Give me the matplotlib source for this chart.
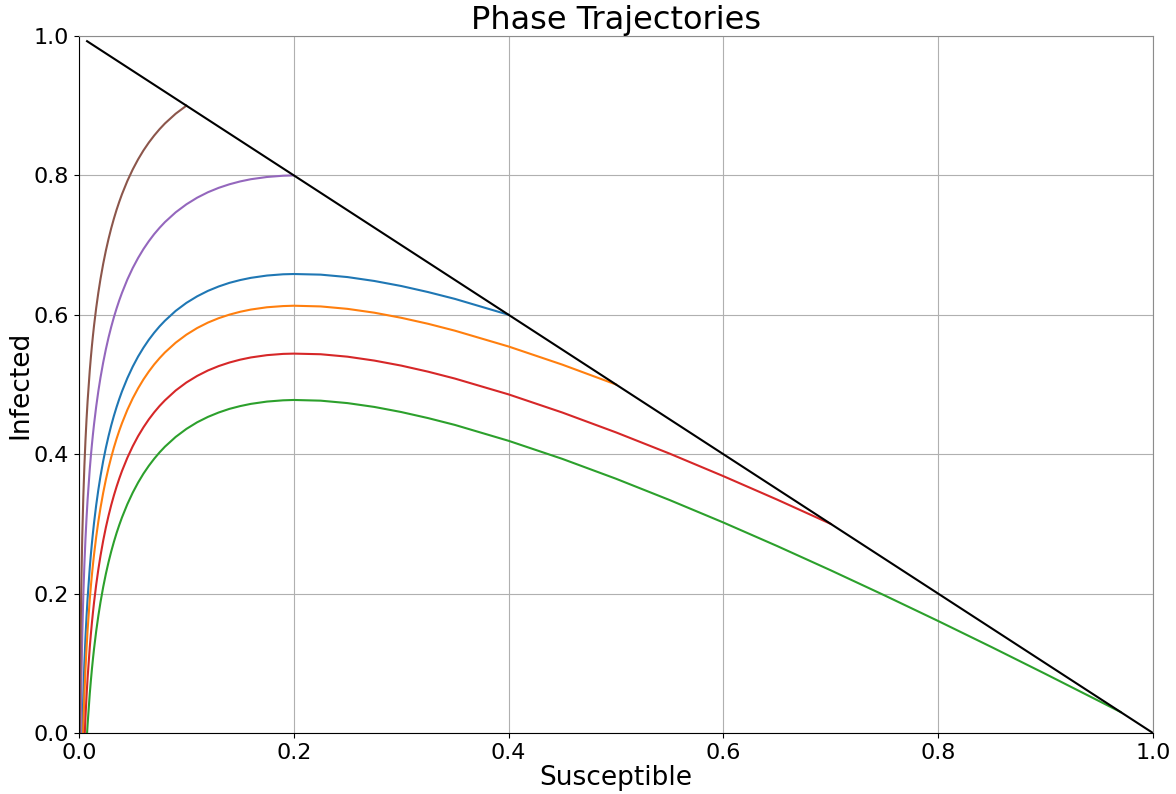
import matplotlib
matplotlib.use("Agg")
import matplotlib.pyplot as plt

# --- susceptible / infected pairs read off the phase portrait ---
# each trajectory starts on the S + I = 1 line and runs down to I = 0
s_blue = [0.00303, 0.004, 0.005, 0.006, 0.007, 0.008, 0.01, 0.011, 0.012, 0.013, 0.014, 0.016,
          0.018, 0.02, 0.0225, 0.025, 0.0275, 0.03, 0.0325, 0.035, 0.0375, 0.04, 0.045, 0.05,
          0.055, 0.06, 0.065, 0.07, 0.075, 0.08, 0.09, 0.1, 0.11, 0.12, 0.13, 0.14, 0.15, 0.16,
          0.175, 0.19, 0.2, 0.225, 0.25, 0.275, 0.3, 0.325, 0.35, 0.4]
i_blue = [0.0, 0.0562, 0.1007, 0.1369, 0.1674, 0.1936, 0.2372, 0.2556, 0.2724, 0.2877, 0.3018, 0.3271,
          0.3491, 0.3686, 0.3902, 0.4092, 0.4261, 0.4414, 0.4552, 0.4678, 0.4794, 0.4901, 0.5091, 0.5256,
          0.5401, 0.5528, 0.5642, 0.5743, 0.5834, 0.5915, 0.6056, 0.6171, 0.6265, 0.6343, 0.6406, 0.6458, 0.6498, 0.6530,
          0.6563, 0.6581, 0.6585, 0.6576, 0.6541, 0.6485, 0.6413, 0.6326, 0.6228, 0.6]

s_orange = [0.00382, 0.004, 0.005, 0.006, 0.007, 0.008, 0.01, 0.011, 0.012, 0.013, 0.014, 0.016,
            0.018, 0.02, 0.0225, 0.025, 0.0275, 0.03, 0.0325, 0.035, 0.0375, 0.04, 0.045, 0.05,
            0.055, 0.06, 0.065, 0.07, 0.075, 0.08, 0.09, 0.1, 0.11, 0.12, 0.13, 0.14, 0.15, 0.16,
            0.175, 0.19, 0.2, 0.225, 0.25, 0.275, 0.3, 0.325, 0.35, 0.4, 0.45, 0.5]
i_orange = [0.0, 0.0106, 0.0552, 0.0914, 0.1218, 0.1481, 0.1916, 0.2101, 0.2268, 0.2422, 0.2563, 0.2815,
            0.3036, 0.3231, 0.3446, 0.3636, 0.3806, 0.3958, 0.4097, 0.4223, 0.4339, 0.4445, 0.4636, 0.4801,
            0.4945, 0.5073, 0.5186, 0.5288, 0.5378, 0.5460, 0.5600, 0.5715, 0.5810, 0.5888, 0.5951, 0.6002, 0.6043, 0.6075,
            0.6108, 0.6125, 0.6130, 0.6120, 0.6085, 0.6030, 0.5957, 0.5871, 0.5772, 0.5545, 0.5285, 0.5]

s_green = [0.0075, 0.008, 0.01, 0.011, 0.012, 0.013, 0.014, 0.016, 0.018, 0.02, 0.0225, 0.025,
           0.0275, 0.03, 0.0325, 0.035, 0.0375, 0.04, 0.045, 0.05, 0.055, 0.06, 0.065, 0.07,
           0.075, 0.08, 0.09, 0.1, 0.11, 0.12, 0.13, 0.14, 0.15, 0.16, 0.175, 0.19, 0.2, 0.225,
           0.25, 0.275, 0.3, 0.325, 0.35, 0.4, 0.45, 0.5, 0.55, 0.6, 0.65, 0.7, 0.75, 0.8,
           0.85, 0.9, 0.95, 0.97]
i_green = [0.0, 0.0128, 0.0564, 0.0748, 0.0916, 0.1069, 0.1211, 0.1463, 0.1683, 0.1878, 0.2094, 0.2284,
           0.2453, 0.2606, 0.2744, 0.2871, 0.2986, 0.3093, 0.3283, 0.3448, 0.3593, 0.3721, 0.3834, 0.3935,
           0.4026, 0.4108, 0.4248, 0.4363, 0.4458, 0.4535, 0.4598, 0.4650, 0.4690, 0.4722, 0.4755, 0.4773, 0.4778, 0.4768,
           0.4733, 0.4678, 0.4605, 0.4518, 0.4420, 0.4192, 0.3933, 0.3648, 0.3342, 0.3020, 0.2683, 0.2334, 0.1975, 0.1607,
           0.1231, 0.0847, 0.0457, 0.03]

s_red = [0.00537, 0.006, 0.007, 0.008, 0.01, 0.011, 0.012, 0.013, 0.014, 0.016, 0.018, 0.02,
         0.0225, 0.025, 0.0275, 0.03, 0.0325, 0.035, 0.0375, 0.04, 0.045, 0.05, 0.055, 0.06,
         0.065, 0.07, 0.075, 0.08, 0.09, 0.1, 0.11, 0.12, 0.13, 0.14, 0.15, 0.16, 0.175, 0.19,
         0.2, 0.225, 0.25, 0.275, 0.3, 0.325, 0.35, 0.4, 0.45, 0.5, 0.55, 0.6, 0.65, 0.7]
i_red = [0.0, 0.0227, 0.0532, 0.0794, 0.1230, 0.1414, 0.1582, 0.1735, 0.1876, 0.2129, 0.2349, 0.2544,
         0.2760, 0.2950, 0.3119, 0.3272, 0.3410, 0.3536, 0.3652, 0.3759, 0.3949, 0.4114, 0.4259, 0.4386,
         0.4500, 0.4601, 0.4692, 0.4773, 0.4914, 0.5029, 0.5123, 0.5201, 0.5264, 0.5315, 0.5356, 0.5388, 0.5421, 0.5439,
         0.5443, 0.5434, 0.5399, 0.5343, 0.5271, 0.5184, 0.5085, 0.4858, 0.4598, 0.4313, 0.4008, 0.3685, 0.3349, 0.3]

s_purple = [0.00152, 0.002, 0.003, 0.004, 0.005, 0.006, 0.007, 0.008, 0.01, 0.011, 0.012, 0.013,
            0.014, 0.016, 0.018, 0.02, 0.0225, 0.025, 0.0275, 0.03, 0.0325, 0.035, 0.0375, 0.04,
            0.045, 0.05, 0.055, 0.06, 0.065, 0.07, 0.075, 0.08, 0.09, 0.1, 0.11, 0.12, 0.13, 0.14,
            0.15, 0.16, 0.175, 0.19, 0.2]
i_purple = [0.0, 0.0582, 0.1399, 0.1976, 0.2422, 0.2784, 0.3088, 0.3351, 0.3786, 0.3971, 0.4138, 0.4292,
            0.4433, 0.4685, 0.4906, 0.5101, 0.5316, 0.5506, 0.5676, 0.5828, 0.5967, 0.6093, 0.6209, 0.6315,
            0.6506, 0.6671, 0.6815, 0.6943, 0.7056, 0.7158, 0.7248, 0.7330, 0.7470, 0.7585, 0.7680, 0.7758, 0.7821, 0.7872,
            0.7913, 0.7945, 0.7977, 0.7995, 0.8]

s_brown = [0.00076, 0.001, 0.0014, 0.002, 0.003, 0.004, 0.005, 0.006, 0.007, 0.008, 0.01,
           0.011, 0.012, 0.013, 0.014, 0.016, 0.018, 0.02, 0.0225, 0.025, 0.0275, 0.03, 0.0325,
           0.035, 0.0375, 0.04, 0.045, 0.05, 0.055, 0.06, 0.065, 0.07, 0.075, 0.08, 0.09, 0.1]
i_brown = [0.0, 0.0592, 0.1274, 0.1996, 0.2814, 0.3391, 0.3836, 0.4198, 0.4503, 0.4765, 0.5201,
           0.5385, 0.5553, 0.5706, 0.5848, 0.6100, 0.6320, 0.6515, 0.6731, 0.6921, 0.7090, 0.7243, 0.7381,
           0.7508, 0.7623, 0.7730, 0.7920, 0.8085, 0.8230, 0.8358, 0.8471, 0.8572, 0.8663, 0.8745, 0.8885, 0.9]

# S + I = 1 boundary
s_line = [0.0075, 1.0]
i_line = [0.9925, 0.0]

fig = plt.figure(figsize=(11.76, 7.94), dpi=100)
ax = fig.add_axes([0.0672, 0.0768, 0.9132, 0.8779])

# default colour cycle gives blue, orange, green, red, purple, brown
for s, i in [(s_blue, i_blue), (s_orange, i_orange), (s_green, i_green),
             (s_red, i_red), (s_purple, i_purple), (s_brown, i_brown)]:
    ax.plot(s, i, linewidth=1.5)

ax.plot(s_line, i_line, color='k', linewidth=1.5)

ax.set_xlim(0, 1)
ax.set_ylim(0, 1)
ax.grid(True)
ax.spines['top'].set_color('0.55')
ax.spines['right'].set_color('0.55')
ax.set_title('Phase Trajectories', fontsize=23, pad=3)
ax.set_xlabel('Susceptible', fontsize=19, labelpad=1.5)
ax.set_ylabel('Infected', fontsize=19, labelpad=0.5)
ax.tick_params(labelsize=16)

fig.savefig('out.png', dpi=100)
